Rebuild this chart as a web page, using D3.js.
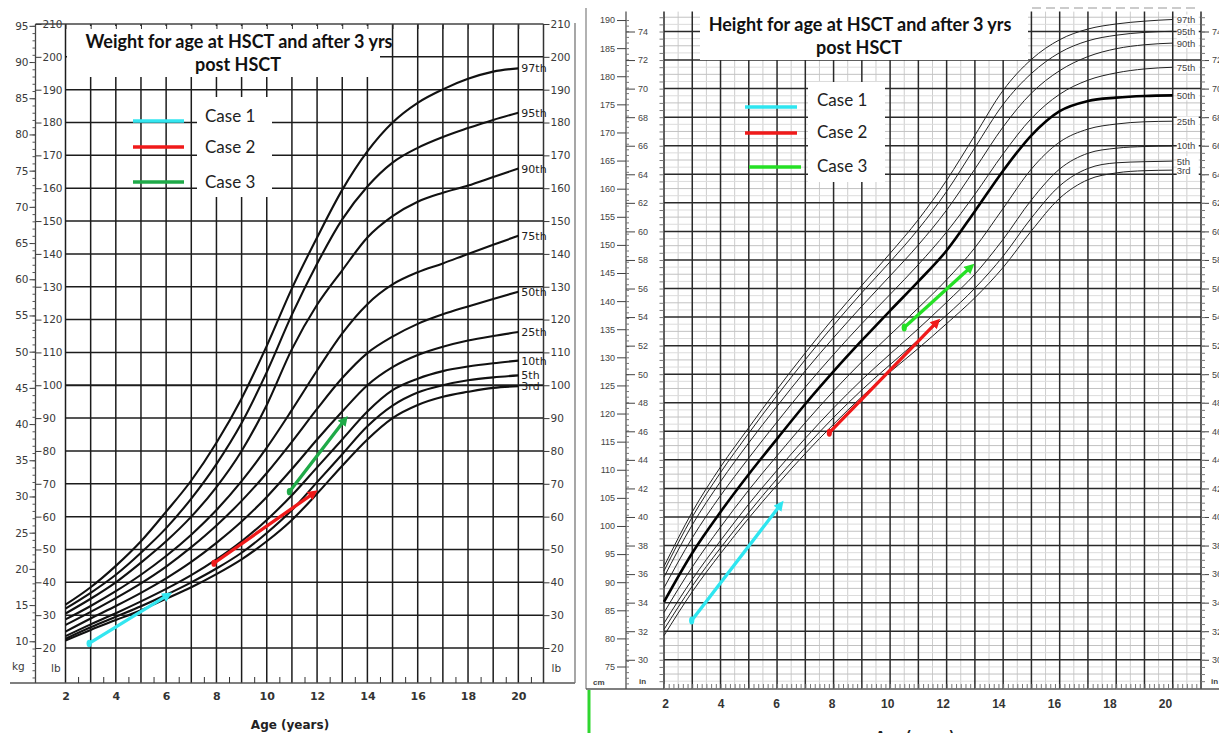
<!DOCTYPE html>
<html>
<head>
<meta charset="utf-8">
<script src="https://cdn.jsdelivr.net/npm/d3@7"></script>
<style>
  body { margin: 0; background: #fff; }
  svg { display: block; }
</style>
</head>
<body>
<svg id="chart" width="1219" height="733"></svg>
<script>
// ---------- data ----------
const ages = [2, 3, 4, 5, 6, 7, 8, 9, 10, 11, 12, 13, 14, 15, 16, 17, 18, 19, 20];
const pctNames = ['3rd', '5th', '10th', '25th', '50th', '75th', '90th', '95th', '97th'];

// weight for age (lb)
const w3rd  = [22.3, 25.5, 28.5, 31.5, 35.0, 38.5, 42.5, 47.0, 52.5, 59.0, 67.0, 75.5, 83.5, 90.0, 94.0, 96.5, 98.0, 99.2, 99.7];
const w5th  = [22.8, 26.3, 29.5, 32.7, 36.2, 40.0, 44.2, 49.0, 55.0, 62.0, 70.5, 79.0, 87.5, 93.8, 97.8, 100.0, 101.5, 102.4, 103.0];
const w10th = [23.6, 27.2, 30.6, 34.2, 38.0, 42.2, 47.0, 52.5, 59.0, 66.5, 75.0, 83.5, 92.0, 98.5, 102.0, 104.3, 105.7, 106.7, 107.5];
const w25th = [25.0, 29.0, 32.8, 36.8, 41.2, 46.2, 52.0, 58.5, 66.0, 74.5, 83.5, 92.0, 100.0, 105.5, 109.2, 111.7, 113.6, 115.0, 116.2];
const w50th = [27.0, 31.0, 35.2, 39.7, 44.8, 50.7, 57.3, 64.8, 73.3, 82.8, 92.8, 102.2, 109.8, 114.8, 118.7, 121.6, 124.0, 126.3, 128.5];
const w75th = [28.7, 32.8, 37.3, 42.3, 48.0, 54.5, 62.0, 70.8, 81.0, 92.5, 104.5, 115.8, 124.7, 130.7, 134.4, 137.1, 140.0, 142.8, 145.5];
const w90th = [30.5, 35.0, 40.0, 46.0, 52.5, 60.0, 69.0, 80.0, 94.0, 111.0, 124.5, 135.0, 145.0, 151.5, 155.9, 158.6, 160.8, 163.4, 166.0];
const w95th = [32.0, 36.8, 42.3, 49.0, 56.5, 65.5, 76.0, 88.5, 104.0, 121.5, 137.0, 150.5, 160.5, 167.8, 172.3, 175.6, 178.3, 180.8, 183.0];
const w97th = [33.2, 38.5, 45.0, 52.5, 61.5, 71.0, 82.5, 96.0, 112.0, 129.5, 145.0, 159.5, 171.2, 180.0, 186.0, 190.1, 193.3, 195.5, 196.5];

// height for age (cm)
const h3rd  = [80.5, 88.3, 95.1, 101.4, 107.3, 112.9, 118.1, 123.0, 127.4, 131.6, 136.0, 140.6, 146.0, 152.5, 158.3, 161.6, 162.8, 163.2, 163.3];
const h5th  = [81.6, 89.3, 96.1, 102.4, 108.4, 114.0, 119.3, 124.2, 128.7, 133.1, 137.5, 142.3, 148.0, 154.8, 160.5, 163.6, 164.6, 164.8, 164.9];
const h10th = [82.7, 90.5, 97.4, 103.9, 109.9, 115.6, 121.0, 126.0, 130.6, 135.1, 139.8, 144.8, 151.0, 158.0, 163.5, 166.3, 167.2, 167.5, 167.6];
const h25th = [84.6, 92.7, 99.8, 106.4, 112.5, 118.4, 124.0, 129.2, 134.0, 138.8, 143.8, 149.5, 156.5, 163.5, 168.3, 170.6, 171.5, 171.9, 172.0];
const h50th = [86.5, 95.2, 102.5, 109.2, 115.5, 121.7, 127.5, 133.0, 138.3, 143.5, 149.0, 156.0, 163.2, 169.5, 173.8, 175.6, 176.2, 176.5, 176.6];
const h75th = [89.0, 97.9, 105.4, 112.1, 118.5, 124.7, 130.5, 136.0, 141.2, 146.5, 152.3, 159.0, 166.2, 172.5, 176.8, 179.3, 180.6, 181.3, 181.6];
const h90th = [90.9, 100.2, 107.9, 114.8, 121.3, 127.6, 133.5, 139.1, 144.5, 150.0, 156.2, 163.5, 171.0, 177.0, 181.0, 183.5, 184.9, 185.6, 185.9];
const h95th = [92.0, 101.6, 109.5, 116.5, 123.2, 129.6, 135.7, 141.5, 147.0, 152.8, 159.5, 167.3, 175.0, 180.5, 184.2, 186.3, 187.3, 187.8, 188.0];
const h97th = [92.8, 102.5, 110.5, 117.5, 124.3, 130.8, 137.0, 142.8, 148.5, 154.5, 161.5, 169.5, 177.5, 183.0, 186.5, 188.4, 189.3, 189.8, 190.1];

// cases: [age, value] at HSCT and 3 yrs later
const caseNames = ['Case 1', 'Case 2', 'Case 3'];
const case1W = [[2.94, 21.4], [6.0, 35.8]];
const case2W = [[7.9, 45.8], [11.8, 66.8]];
const case3W = [[10.9, 67.6], [13.05, 89.0]];
const case1H = [[2.98, 83.2], [6.08, 103.5]];
const case2H = [[7.85, 116.6], [11.6, 136.0]];
const case3H = [[10.5, 135.3], [12.8, 145.8]];

// tick labels
const ageTicks = [2, 4, 6, 8, 10, 12, 14, 16, 18, 20];
const lbTicks = [20, 30, 40, 50, 60, 70, 80, 90, 100, 110, 120, 130, 140, 150, 160, 170, 180, 190, 200, 210];
const kgTicks = [10, 15, 20, 25, 30, 35, 40, 45, 50, 55, 60, 65, 70, 75, 80, 85, 90, 95];
const cmTicks = [75, 80, 85, 90, 95, 100, 105, 110, 115, 120, 125, 130, 135, 140, 145, 150, 155, 160, 165, 170, 175, 180, 185, 190];
const inTicks = [30, 32, 34, 36, 38, 40, 42, 44, 46, 48, 50, 52, 54, 56, 58, 60, 62, 64, 66, 68, 70, 72, 74];

const LB_PER_KG = 2.20462;
const CM_PER_IN = 2.54;

const svg = d3.select('#chart');
const dark = '#1c1c1c';

function styleAxis(g, font, size, color, weight) {
  g.select('.domain').remove();
  g.selectAll('.tick line').attr('stroke', color);
  g.selectAll('text').attr('font-family', font).attr('font-size', size)
    .attr('fill', color).attr('font-weight', weight || 'normal');
}

function arrowMarker(id, color) {
  svg.append('defs').append('marker').attr('id', id)
    .attr('viewBox', '0 0 10 10').attr('refX', 3).attr('refY', 5)
    .attr('markerWidth', 3.2).attr('markerHeight', 3)
    .attr('orient', 'auto')
    .append('path').attr('d', 'M0,0 L10,5 L0,10 z').attr('fill', color);
}

// =========================================================
// LEFT PANEL: weight
// =========================================================
const xW = d3.scaleLinear().domain([2, 21]).range([65.5, 543.5]);
const yW = d3.scaleLinear().domain([20, 210]).range([648, 24]);
const yKg = d3.scaleLinear().domain([20 / LB_PER_KG, 210 / LB_PER_KG]).range([648, 24]);
const L = svg.append('g');

// grid
L.append('g').selectAll('line').data(d3.range(2, 21)).join('line')
  .attr('x1', d => xW(d)).attr('x2', d => xW(d))
  .attr('y1', 683).attr('y2', 24)
  .attr('stroke', dark).attr('stroke-width', 1.5);
L.append('g').selectAll('line').data(d3.range(20, 201, 10)).join('line')
  .attr('x1', xW(2)).attr('x2', xW(21))
  .attr('y1', d => yW(d)).attr('y2', d => yW(d))
  .attr('stroke', dark).attr('stroke-width', d => d === 100 ? 2 : 1.5);

// frame lines
L.append('line').attr('x1', 10).attr('x2', 575).attr('y1', 683).attr('y2', 683).attr('stroke', '#555').attr('stroke-width', 1.5);
L.append('line').attr('x1', 35.5).attr('x2', 35.5).attr('y1', 24).attr('y2', 683).attr('stroke', '#444').attr('stroke-width', 1.3);
L.append('line').attr('x1', 35.5).attr('x2', xW(21)).attr('y1', 24).attr('y2', 24).attr('stroke', '#444').attr('stroke-width', 1.3);
L.append('line').attr('x1', xW(21)).attr('x2', xW(21)).attr('y1', 24).attr('y2', 683).attr('stroke', '#333').attr('stroke-width', 1.5);
L.append('line').attr('x1', 575).attr('x2', 575).attr('y1', 23).attr('y2', 683).attr('stroke', '#777').attr('stroke-width', 1.3);

// title and legend boxes cover the grid
L.append('rect').attr('x', 67).attr('y', 26).attr('width', 313).attr('height', 51).attr('fill', '#fff');
L.append('rect').attr('x', 197).attr('y', 97).attr('width', 75).attr('height', 100).attr('fill', '#fff');

// top ticks
L.append('g').attr('transform', 'translate(0,24)')
  .call(d3.axisBottom(xW).tickValues(d3.range(2, 21)).tickSize(5).tickFormat(''))
  .call(g => styleAxis(g, 'DejaVu Sans', 10, '#333'));

// axes
L.append('g').attr('transform', 'translate(35.5,0)')
  .call(d3.axisRight(yW).tickValues(lbTicks).tickSize(6).tickPadding(1))
  .call(g => styleAxis(g, 'DejaVu Sans', 10.5, '#3a3a3a'));
L.append('g').attr('transform', 'translate(35.5,0)')
  .call(d3.axisLeft(yKg).tickValues(kgTicks).tickSize(6).tickPadding(1))
  .call(g => styleAxis(g, 'DejaVu Sans', 10.5, '#3a3a3a'));
L.append('g').attr('transform', 'translate(35.5,0)')
  .call(d3.axisLeft(yKg).tickValues(d3.range(5, 96)).tickSize(3).tickFormat(''))
  .call(g => styleAxis(g, 'DejaVu Sans', 10, '#555'));
L.append('g').attr('transform', 'translate(' + xW(21) + ',0)')
  .call(d3.axisRight(yW).tickValues(lbTicks).tickSize(6).tickPadding(1))
  .call(g => styleAxis(g, 'DejaVu Sans', 10.5, '#3a3a3a'));
L.append('g').attr('transform', 'translate(0,683)')
  .call(d3.axisBottom(xW).tickValues(ageTicks).tickSize(0).tickPadding(9))
  .call(g => styleAxis(g, 'DejaVu Sans', 11, '#333', 'bold'));
L.append('g').attr('transform', 'translate(0,683)')
  .call(d3.axisTop(xW).tickValues(d3.range(2.5, 21, 1)).tickSize(6).tickFormat(''))
  .call(g => styleAxis(g, 'DejaVu Sans', 10, '#333'));

L.append('text').attr('x', 12).attr('y', 670).text('kg')
  .attr('font-family', 'DejaVu Sans').attr('font-size', 10.5).attr('fill', '#3a3a3a');
L.append('text').attr('x', 51).attr('y', 672).text('lb')
  .attr('font-family', 'DejaVu Sans').attr('font-size', 10.5).attr('fill', '#3a3a3a');
L.append('text').attr('x', xW(21) + 8).attr('y', 672).text('lb')
  .attr('font-family', 'DejaVu Sans').attr('font-size', 10.5).attr('fill', '#3a3a3a');
L.append('text').attr('x', 290).attr('y', 729).attr('text-anchor', 'middle').text('Age (years)')
  .attr('font-family', 'DejaVu Sans').attr('font-size', 12).attr('font-weight', 'bold').attr('fill', '#222');

// percentile curves
const weightSeries = [w3rd, w5th, w10th, w25th, w50th, w75th, w90th, w95th, w97th]
  .map((v, i) => ({ name: pctNames[i], values: v.map((d, j) => [ages[j], d]) }));
const lineW = d3.line().x(d => xW(d[0])).y(d => yW(d[1])).curve(d3.curveMonotoneX);
L.append('g').selectAll('path').data(weightSeries).join('path')
  .attr('d', d => lineW(d.values)).attr('fill', 'none')
  .attr('stroke', '#111').attr('stroke-width', 2.1);
L.append('g').selectAll('text').data(weightSeries).join('text')
  .attr('x', xW(20) + 3).attr('y', d => yW(d.values[d.values.length - 1][1]) + 4)
  .text(d => d.name)
  .attr('font-family', 'DejaVu Sans').attr('font-size', 11).attr('fill', '#222');

// title
L.append('text').attr('x', 239).attr('y', 48).attr('text-anchor', 'middle')
  .text('Weight for age at HSCT and after 3 yrs')
  .attr('font-family', 'Lato').attr('font-size', 18).attr('font-weight', 'bold').attr('fill', '#111');
L.append('text').attr('x', 238).attr('y', 71).attr('text-anchor', 'middle')
  .text('post HSCT')
  .attr('font-family', 'Lato').attr('font-size', 18).attr('font-weight', 'bold').attr('fill', '#111');

// cases
const colorsW = ['#33e6f0', '#f01a1a', '#1faa48'];
colorsW.forEach((c, i) => arrowMarker('awl' + i, c));
[case1W, case2W, case3W].forEach((pts, i) => {
  L.append('path').attr('d', d3.line().x(d => xW(d[0])).y(d => yW(d[1]))(pts))
    .attr('stroke', colorsW[i]).attr('stroke-width', 3.3).attr('fill', 'none')
    .attr('stroke-linecap', 'round').attr('marker-end', 'url(#awl' + i + ')');
  L.append('ellipse').attr('cx', xW(pts[0][0])).attr('cy', yW(pts[0][1]))
    .attr('rx', 2.6).attr('ry', 3.6).attr('fill', colorsW[i]);
});
const legYW = [121, 147, 182];
caseNames.forEach((n, i) => {
  L.append('line').attr('x1', 133).attr('x2', 184).attr('y1', legYW[i]).attr('y2', legYW[i])
    .attr('stroke', colorsW[i]).attr('stroke-width', 3.5);
  L.append('text').attr('x', 205).attr('y', legYW[i] + 6 - (i === 0 ? 5 : 0)).text(n)
    .attr('font-family', 'Lato').attr('font-size', 17).attr('fill', '#222');
});

// =========================================================
// RIGHT PANEL: height
// =========================================================
const xH = d3.scaleLinear().domain([2, 21]).range([664, 1201]);
const xHLabel = d3.scaleLinear().domain([2, 20]).range([665, 1165]);
const yH = d3.scaleLinear().domain([71, 191.5]).range([689, 11.6]);
const yIn = v => yH(v * CM_PER_IN);
const inScale = d3.scaleLinear().domain([71 / CM_PER_IN, 191.5 / CM_PER_IN]).range([689, 11.6]);
const R = svg.append('g');

// light grid
R.append('g').selectAll('line').data(d3.range(2.5, 21, 1)).join('line')
  .attr('x1', d => xH(d)).attr('x2', d => xH(d)).attr('y1', 11.6).attr('y2', 689)
  .attr('stroke', '#cdcdcd').attr('stroke-width', 1);
R.append('g').selectAll('line').data(d3.range(28.5, 75.5, 0.5).filter(v => v % 2 !== 0)).join('line')
  .attr('x1', xH(2)).attr('x2', xH(21)).attr('y1', d => yIn(d)).attr('y2', d => yIn(d))
  .attr('stroke', d => d % 1 === 0 ? '#c2c2c2' : '#dcdcdc').attr('stroke-width', 1);

// dark grid
R.append('g').selectAll('line').data(d3.range(2, 22)).join('line')
  .attr('x1', d => xH(d)).attr('x2', d => xH(d)).attr('y1', 11.6).attr('y2', 689)
  .attr('stroke', '#2a2a2a').attr('stroke-width', 1.5);
R.append('g').selectAll('line').data(inTicks).join('line')
  .attr('x1', xH(2)).attr('x2', xH(21)).attr('y1', d => yIn(d)).attr('y2', d => yIn(d))
  .attr('stroke', '#2a2a2a').attr('stroke-width', 1.5);

// frame
R.append('line').attr('x1', 586).attr('x2', 586).attr('y1', 8).attr('y2', 689).attr('stroke', '#999').attr('stroke-width', 1.5);
R.append('line').attr('x1', 586).attr('x2', 1219).attr('y1', 689).attr('y2', 689).attr('stroke', '#555').attr('stroke-width', 1.3);
R.append('line').attr('x1', 626).attr('x2', 626).attr('y1', 11.6).attr('y2', 689).attr('stroke', '#444').attr('stroke-width', 1.2);
R.append('line').attr('x1', 710).attr('x2', 1200).attr('y1', 8).attr('y2', 8)
  .attr('stroke', '#bbb').attr('stroke-width', 1.5).attr('stroke-dasharray', '9,5');

// boxes
R.append('rect').attr('x', 700).attr('y', 4).attr('width', 328).attr('height', 56).attr('fill', '#fff');
R.append('rect').attr('x', 808).attr('y', 82).attr('width', 77).attr('height', 100).attr('fill', '#fff');

// axes
R.append('g').attr('transform', 'translate(626,0)')
  .call(d3.axisLeft(yH).tickValues(cmTicks).tickSize(9).tickPadding(2))
  .call(g => styleAxis(g, 'Liberation Sans', 9, '#444'));
R.append('g').attr('transform', 'translate(626,0)')
  .call(d3.axisRight(yH).tickValues(d3.range(72, 191)).tickSize(3).tickFormat(''))
  .call(g => styleAxis(g, 'Liberation Sans', 9, '#777'));
R.append('g').attr('transform', 'translate(626,0)')
  .call(d3.axisRight(inScale).tickValues(inTicks).tickSize(9).tickPadding(3))
  .call(g => styleAxis(g, 'Liberation Sans', 9, '#444'));
R.append('g').attr('transform', 'translate(663.5,0)')
  .call(d3.axisLeft(inScale).tickValues(d3.range(28.5, 75.5, 0.5)).tickSize(4).tickFormat(''))
  .call(g => styleAxis(g, 'Liberation Sans', 9, '#777'));
R.append('g').attr('transform', 'translate(' + xH(21) + ',0)')
  .call(d3.axisRight(inScale).tickValues(inTicks).tickSize(8).tickPadding(3))
  .call(g => styleAxis(g, 'Liberation Sans', 9, '#444'));
R.append('g').attr('transform', 'translate(' + xH(21) + ',0)')
  .call(d3.axisRight(inScale).tickValues(d3.range(28.5, 75.5, 0.5)).tickSize(4).tickFormat(''))
  .call(g => styleAxis(g, 'Liberation Sans', 9, '#777'));
R.append('g').attr('transform', 'translate(0,689)')
  .call(d3.axisTop(xH).tickValues(d3.range(2, 21, 1 / 6)).tickSize(5).tickFormat(''))
  .call(g => styleAxis(g, 'Liberation Sans', 9, '#777'));
R.append('g').attr('transform', 'translate(0,689)')
  .call(d3.axisBottom(xHLabel).tickValues(ageTicks).tickSize(0).tickPadding(10))
  .call(g => styleAxis(g, 'Liberation Sans', 12, '#333', 'bold'));

R.append('text').attr('x', 593).attr('y', 685).text('cm')
  .attr('font-family', 'Liberation Sans').attr('font-size', 8).attr('font-weight', 'bold').attr('fill', '#444');
R.append('text').attr('x', 639).attr('y', 684).text('in')
  .attr('font-family', 'Liberation Sans').attr('font-size', 8).attr('font-weight', 'bold').attr('fill', '#444');
R.append('text').attr('x', 1211).attr('y', 684).text('in')
  .attr('font-family', 'Liberation Sans').attr('font-size', 8).attr('font-weight', 'bold').attr('fill', '#444');
R.append('text').attr('x', 915).attr('y', 740).attr('text-anchor', 'middle').text('Age (years)')
  .attr('font-family', 'DejaVu Sans').attr('font-size', 12).attr('font-weight', 'bold').attr('fill', '#222');
R.append('line').attr('x1', 589).attr('x2', 589).attr('y1', 690).attr('y2', 733)
  .attr('stroke', '#2fd62f').attr('stroke-width', 3);

// curves
const heightSeries = [h3rd, h5th, h10th, h25th, h50th, h75th, h90th, h95th, h97th]
  .map((v, i) => ({ name: pctNames[i], values: v.map((d, j) => [ages[j], d]) }));
const lineH = d3.line().x(d => xH(d[0])).y(d => yH(d[1])).curve(d3.curveMonotoneX);
R.append('g').selectAll('path').data(heightSeries).join('path')
  .attr('d', d => lineH(d.values)).attr('fill', 'none')
  .attr('stroke', d => d.name === '50th' ? '#000' : '#222')
  .attr('stroke-width', d => d.name === '50th' ? 2.6 : 1);
const hLab = R.append('g').selectAll('g').data(heightSeries).join('g')
  .attr('transform', d => 'translate(' + (xH(20) + 4) + ',' + yH(d.values[d.values.length - 1][1]) + ')');
hLab.append('rect').attr('x', 0).attr('y', -5).attr('width', 22).attr('height', 10).attr('fill', '#fff');
hLab.append('text').attr('y', 3.5).text(d => d.name)
  .attr('font-family', 'Liberation Sans').attr('font-size', 9.5).attr('fill', '#444');

// title
R.append('text').attr('x', 860).attr('y', 31).attr('text-anchor', 'middle')
  .text('Height for age at HSCT and after 3 yrs')
  .attr('font-family', 'Lato').attr('font-size', 18).attr('font-weight', 'bold').attr('fill', '#111');
R.append('text').attr('x', 859).attr('y', 54).attr('text-anchor', 'middle')
  .text('post HSCT')
  .attr('font-family', 'Lato').attr('font-size', 18).attr('font-weight', 'bold').attr('fill', '#111');

// cases
const colorsH = ['#2ee6f0', '#f01a1a', '#25e025'];
colorsH.forEach((c, i) => arrowMarker('awr' + i, c));
[case1H, case2H, case3H].forEach((pts, i) => {
  R.append('path').attr('d', d3.line().x(d => xH(d[0])).y(d => yH(d[1]))(pts))
    .attr('stroke', colorsH[i]).attr('stroke-width', 3.3).attr('fill', 'none')
    .attr('stroke-linecap', 'round').attr('marker-end', 'url(#awr' + i + ')');
  R.append('ellipse').attr('cx', xH(pts[0][0])).attr('cy', yH(pts[0][1]))
    .attr('rx', 2.6).attr('ry', 4).attr('fill', colorsH[i]);
});
const legYH = [107, 133, 167];
caseNames.forEach((n, i) => {
  R.append('line').attr('x1', 745 + (i === 2 ? 4 : 0)).attr('x2', 797 + (i === 2 ? 4 : 0))
    .attr('y1', legYH[i]).attr('y2', legYH[i])
    .attr('stroke', colorsH[i]).attr('stroke-width', 3.5);
  R.append('text').attr('x', 817).attr('y', [106, 138, 172][i]).text(n)
    .attr('font-family', 'Lato').attr('font-size', 17).attr('fill', '#222');
});
</script>
</body>
</html>
